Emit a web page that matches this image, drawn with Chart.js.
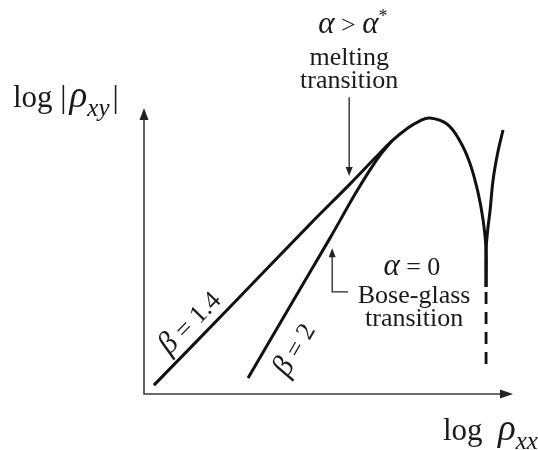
<!DOCTYPE html>
<html>
<head>
<meta charset="utf-8">
<script src="https://cdn.jsdelivr.net/npm/chart.js@4"></script>
<style>
  html, body { margin: 0; padding: 0; background: #fff; }
  #wrap { width: 538px; height: 450px; }
</style>
</head>
<body>
<div id="wrap"><canvas id="phaseChart"></canvas></div>
<script>
// curve samples in (log rho_xx, log |rho_xy|), arbitrary units 0..100
var beta14X = [2.7, 23.3, 45.0, 55.8, 62.6, 67.2, 71.5, 74.8, 77.5, 82.1, 85.6, 88.3, 90.5, 91.9, 92.7, 92.7];
var beta14Y = [3.1, 30.4, 59.4, 73.4, 82.5, 88.5, 93.0, 95.5, 96.5, 94.4, 88.5, 80.8, 70.6, 60.8, 50.3, 37.4];

var beta2X = [28.2, 39.6, 50.4, 57.2, 61.2, 64.2, 67.2];
var beta2Y = [5.6, 30.8, 54.5, 69.9, 78.3, 83.9, 88.5];

var riseX = [92.7, 92.7, 93.2, 93.8, 94.6, 95.9, 97.3];
var riseY = [37.4, 50.3, 58.0, 64.3, 74.8, 84.6, 92.3];

var dashX = [92.7, 92.7];
var dashY = [35.7, 8.4];

// annotation arrows
var meltArrowX = [55.6, 55.6];
var meltArrowY = [103.8, 76.2];
var boseArrowX = [55.3, 51.0, 51.0];
var boseArrowY = [35.7, 35.7, 51.0];

function toPoints(xs, ys) {
    return xs.map(function(x, i) { return { x: x, y: ys[i] }; });
}

// text runs: [text, style, extra gap after]; style: r roman, g greek italic, sub, sup
var textBlocks = [
    { x: 56.6, y: 129.0, size: 26, runs: [['α', 'g'], [' > ', 'r'], ['α', 'g'], ['*', 'sup']] },
    { x: 55.6, y: 117.8, size: 26, runs: [['melting', 'r']] },
    { x: 55.6, y: 109.8, size: 26, runs: [['transition', 'r']] },
    { x: 72.6, y: 44.4, size: 26, runs: [['α', 'g'], [' = 0', 'r']] },
    { x: 73.2, y: 34.6, size: 26, runs: [['Bose-glass', 'r']] },
    { x: 73.2, y: 26.6, size: 26, runs: [['transition', 'r']] }
];

var betaLabels = [
    { x: 12.5, y: 24.8, size: 26, along: [beta14X, beta14Y], runs: [['β', 'g'], [' = 1.4', 'r']] },
    { x: 40.9, y: 15.4, size: 26, along: [beta2X, beta2Y], runs: [['β', 'g'], [' = 2', 'r']] }
];

var axisTitles = [
    { x: -35.5, y: 100.5, size: 31, runs: [['log ', 'r'], ['|', 'r', 3], ['ρ', 'g'], ['xy', 'sub', 3], ['|', 'r']] },
    { x: 81.0, y: -16.1, size: 31, runs: [['log  ', 'r'], ['ρ', 'g'], ['xx', 'sub']] }
];

var FAMILY = '"Liberation Serif", "DejaVu Serif", serif';

function runFont(style, size) {
    var s = size;
    if (style === 'g') s = Math.round(size * 1.18);
    if (style === 'sub') s = Math.round(size * 0.82);
    if (style === 'sup') s = Math.round(size * 0.7);
    var italic = (style === 'g' || style === 'sub');
    return (italic ? 'italic ' : '') + s + 'px ' + FAMILY;
}

function measureRuns(ctx, runs, size) {
    var w = 0;
    runs.forEach(function(r) {
        ctx.font = runFont(r[1], size);
        w += ctx.measureText(r[0]).width + (r[2] || 0);
    });
    return w;
}

// draws runs starting at (x, y) on an alphabetic baseline
function drawRuns(ctx, runs, x, y, size) {
    ctx.textAlign = 'left';
    ctx.textBaseline = 'alphabetic';
    runs.forEach(function(r) {
        ctx.font = runFont(r[1], size);
        var dy = 0;
        if (r[1] === 'sub') dy = size * 0.3;
        if (r[1] === 'sup') dy = -size * 0.42;
        ctx.fillText(r[0], x, y + dy);
        x += ctx.measureText(r[0]).width + (r[2] || 0);
    });
}

function arrowHead(ctx, tipX, tipY, dirX, dirY, len, half) {
    var n = Math.sqrt(dirX * dirX + dirY * dirY);
    var ux = dirX / n, uy = dirY / n;
    var bx = tipX - ux * len, by = tipY - uy * len;
    ctx.beginPath();
    ctx.moveTo(tipX, tipY);
    ctx.lineTo(bx - uy * half, by + ux * half);
    ctx.lineTo(bx + uy * half, by - ux * half);
    ctx.closePath();
    ctx.fill();
}

var decorPlugin = {
    id: 'decor',
    afterDatasetsDraw: function(chart) {
        var ctx = chart.ctx;
        var xs = chart.scales.x, ys = chart.scales.y;
        var px = function(v) { return xs.getPixelForValue(v); };
        var py = function(v) { return ys.getPixelForValue(v); };
        ctx.save();

        // axes with arrows
        var x0 = px(0), y0 = py(0), x1 = px(100), y1 = py(100);
        ctx.strokeStyle = '#3a3a3a';
        ctx.fillStyle = '#222';
        ctx.lineWidth = 1.6;
        ctx.beginPath();
        ctx.moveTo(x0, y1 + 8);
        ctx.lineTo(x0, y0);
        ctx.lineTo(x1 - 8, y0);
        ctx.stroke();
        arrowHead(ctx, x0, y1, 0, -1, 12, 4.5);
        arrowHead(ctx, x1, y0, 1, 0, 13, 4.5);

        // annotation arrows
        ctx.strokeStyle = '#222';
        ctx.lineWidth = 1.3;
        ctx.beginPath();
        ctx.moveTo(px(meltArrowX[0]), py(meltArrowY[0]));
        ctx.lineTo(px(meltArrowX[1]), py(meltArrowY[1]) - 6);
        ctx.stroke();
        arrowHead(ctx, px(meltArrowX[1]), py(meltArrowY[1]), 0, 1, 9, 3.5);

        ctx.beginPath();
        ctx.moveTo(px(boseArrowX[0]), py(boseArrowY[0]));
        ctx.lineTo(px(boseArrowX[1]), py(boseArrowY[1]));
        ctx.lineTo(px(boseArrowX[2]), py(boseArrowY[2]) + 6);
        ctx.stroke();
        arrowHead(ctx, px(boseArrowX[2]), py(boseArrowY[2]), 0, -1, 9, 3.5);

        ctx.fillStyle = '#1a1a1a';

        // centred annotation text
        textBlocks.forEach(function(b) {
            var w = measureRuns(ctx, b.runs, b.size);
            drawRuns(ctx, b.runs, px(b.x) - w / 2, py(b.y) + b.size * 0.3, b.size);
        });

        // slope labels, rotated along their lines
        betaLabels.forEach(function(b) {
            var ax = b.along[0], ay = b.along[1];
            var ang = Math.atan2(py(ay[1]) - py(ay[0]), px(ax[1]) - px(ax[0]));
            var w = measureRuns(ctx, b.runs, b.size);
            ctx.save();
            ctx.translate(px(b.x), py(b.y));
            ctx.rotate(ang);
            drawRuns(ctx, b.runs, -w / 2, b.size * 0.3, b.size);
            ctx.restore();
        });

        // axis titles, left-aligned on baseline
        axisTitles.forEach(function(t) {
            drawRuns(ctx, t.runs, px(t.x), py(t.y), t.size);
        });

        ctx.restore();
    }
};

var lineStyle = {
    showLine: true,
    borderColor: '#111',
    borderWidth: 3,
    pointRadius: 0,
    tension: 0.4,
    fill: false,
    clip: false
};

var ctx = document.getElementById('phaseChart').getContext('2d');
var chart = new Chart(ctx, {
    type: 'scatter',
    data: {
        datasets: [
            Object.assign({ label: 'beta 1.4', data: toPoints(beta14X, beta14Y) }, lineStyle),
            Object.assign({ label: 'beta 2', data: toPoints(beta2X, beta2Y) }, lineStyle),
            Object.assign({ label: 'rise', data: toPoints(riseX, riseY) }, lineStyle),
            Object.assign({ label: 'dashed', data: toPoints(dashX, dashY) }, lineStyle,
                { borderDash: [12, 8], tension: 0, borderWidth: 2.8 })
        ]
    },
    options: {
        responsive: true,
        maintainAspectRatio: false,
        animation: false,
        layout: { padding: { left: 144, right: 25, top: 108, bottom: 56 } },
        plugins: {
            legend: { display: false },
            tooltip: { enabled: false }
        },
        scales: {
            x: { type: 'linear', min: 0, max: 100, display: false },
            y: { type: 'linear', min: 0, max: 100, display: false }
        }
    },
    plugins: [decorPlugin]
});
</script>
</body>
</html>
